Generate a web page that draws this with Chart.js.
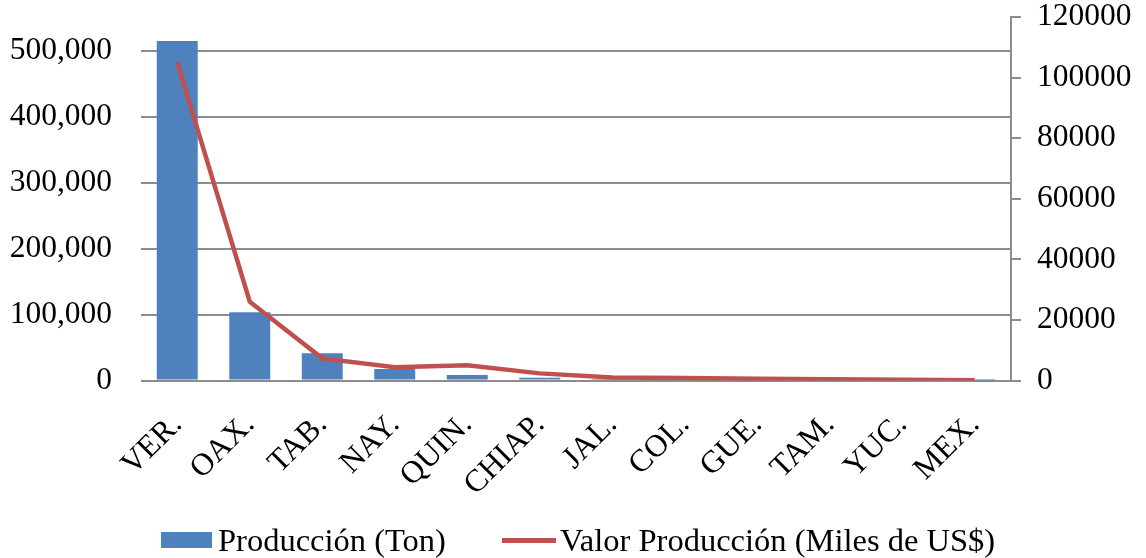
<!DOCTYPE html>
<html>
<head>
<meta charset="utf-8">
<script src="https://cdn.jsdelivr.net/npm/chart.js@4"></script>
<style>
  html, body { margin: 0; padding: 0; background: #ffffff; }
  #wrap { position: relative; width: 1146px; height: 558px; }
  #legend { position: absolute; left: 0; top: 522px; width: 1146px; height: 36px;
            font-family: "Liberation Serif", "Times New Roman", serif; font-size: 32.5px; color: #000; }
  .li { position: absolute; top: 0; white-space: nowrap; line-height: 36px; }
  .sw-bar { position: absolute; width: 51px; height: 16px; background: #4F81BD; }
  .sw-line { position: absolute; width: 54px; height: 5px; background: #C0504D; }
</style>
</head>
<body>
<div id="wrap">
  <canvas id="c" width="1146" height="558"></canvas>
  <div id="legend"></div>
</div>
<script>
const categories = ['VER.', 'OAX.', 'TAB.', 'NAY.', 'QUIN.', 'CHIAP.', 'JAL.', 'COL.', 'GUE.', 'TAM.', 'YUC.', 'MEX.'];
const produccionTon = [515000, 103500, 41300, 17400, 8300, 4200, 900, 600, 450, 300, 200, 100];
const valorMilesUSD = [105000, 26000, 7300, 4350, 5050, 2350, 1000, 800, 600, 450, 250, 100];
const leftTicks = [0, 100000, 200000, 300000, 400000, 500000];
const rightTicks = [0, 20000, 40000, 60000, 80000, 100000, 120000];
const seriesNames = ['Producción (Ton)', 'Valor Producción (Miles de US$)'];

const FONT = { family: '"Liberation Serif", "Times New Roman", serif', size: 31.5 };
const GRID = '#8c8c8c';

function noVPad(s) { s.paddingTop = 0; s.paddingBottom = 0; }

const ctx = document.getElementById('c').getContext('2d');
const chart = new Chart(ctx, {
  data: {
    labels: categories,
    datasets: [
      {
        type: 'line',
        label: seriesNames[1],
        data: valorMilesUSD,
        yAxisID: 'y1',
        borderColor: '#C0504D',
        backgroundColor: '#C0504D',
        borderWidth: 4.5,
        pointRadius: 0,
        tension: 0,
        order: 0
      },
      {
        type: 'bar',
        label: seriesNames[0],
        data: produccionTon,
        yAxisID: 'y',
        backgroundColor: '#4F81BD',
        borderWidth: 0,
        categoryPercentage: 1.0,
        barPercentage: 0.565,
        order: 1
      }
    ]
  },
  options: {
    responsive: false,
    animation: false,
    devicePixelRatio: 1,
    layout: { padding: { left: 0, right: 0, top: 17, bottom: 60 } },
    plugins: { legend: { display: false }, tooltip: { enabled: false } },
    scales: {
      x: {
        grid: { display: false },
        border: { display: false },
        ticks: { font: FONT, color: '#000', minRotation: 45, maxRotation: 45, autoSkip: false, padding: 18 },
        afterFit(s) { s.height = 558 - 60 - 380.5; s.paddingLeft = 0; s.paddingRight = 0; }
      },
      y: {
        position: 'left',
        min: 0,
        max: 551600,
        afterBuildTicks(s) { s.ticks = leftTicks.map(v => ({ value: v })); },
        grid: { color: GRID, lineWidth: 2, drawTicks: false },
        border: { display: false },
        ticks: {
          font: FONT, color: '#000', padding: 29,
          callback: v => v.toLocaleString('en-US')
        },
        afterFit(s) { s.width = 141; noVPad(s); }
      },
      y1: {
        position: 'right',
        min: 0,
        max: 120000,
        afterBuildTicks(s) { s.ticks = rightTicks.map(v => ({ value: v })); },
        grid: { drawOnChartArea: false, drawTicks: true, tickLength: 10, color: GRID, lineWidth: 2 },
        border: { display: true, color: GRID, width: 2 },
        ticks: { font: FONT, color: '#000', padding: 16, callback: v => String(v) },
        afterFit(s) { s.width = 1146 - 1011; noVPad(s); }
      }
    }
  }
});

// Legend built from the chart's datasets
const legend = document.getElementById('legend');
const items = [
  { ds: chart.data.datasets[1], swatch: 'sw-bar', sx: 161, sy: 10, tx: 218 },
  { ds: chart.data.datasets[0], swatch: 'sw-line', sx: 502, sy: 16, tx: 560 }
];
items.forEach(it => {
  const sw = document.createElement('div');
  sw.className = it.swatch;
  sw.style.left = it.sx + 'px';
  sw.style.top = it.sy + 'px';
  sw.style.background = it.ds.type === 'bar' ? it.ds.backgroundColor : it.ds.borderColor;
  legend.appendChild(sw);
  const t = document.createElement('span');
  t.className = 'li';
  t.style.left = it.tx + 'px';
  t.textContent = it.ds.label;
  legend.appendChild(t);
});
</script>
</body>
</html>
